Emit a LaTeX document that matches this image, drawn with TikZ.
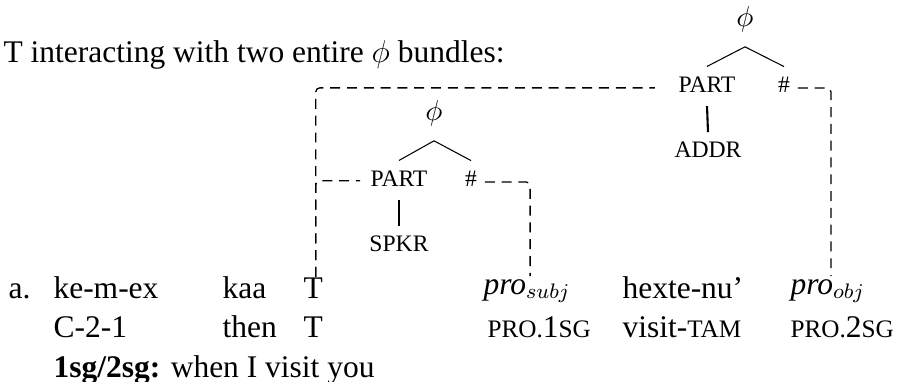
\documentclass[tikz,border=0pt,12pt]{standalone}
\usepackage{fontspec}
\setmainfont{Liberation Serif}
\newcommand{\glsc}[1]{{\fontsize{9.6pt}{11pt}\selectfont #1}}

\begin{document}
\begin{tikzpicture}[x=0.381pt,y=-0.381pt,font=\fontsize{12pt}{14.4pt}\selectfont,
        gl/.style={anchor=base west,inner sep=0pt},
        tr/.style={anchor=base,inner sep=0pt,font=\fontsize{9pt}{10.5pt}\selectfont},
        trphi/.style={tr,font=\fontsize{11pt}{12pt}\selectfont},
        br/.style={line width=0.4pt},
        bar/.style={line width=0.8pt},
        link/.style={line width=0.5pt,dash pattern=on 3.8pt off 2.6pt,rounded corners=1.5pt}]
        \useasboundingbox (0,0) rectangle (907,381);
        \node[gl] (title) at (3,62) {T interacting with two entire $\phi$ bundles:};

        %draw the upper phi bundle
        \node[trphi] (phiA) at (745,26) {$\phi$};
        \node[tr] (partA) at (707,92) {PART};
        \node[tr] (hashA) at (784,92) {\#};
        \node[tr] (addrA) at (708,157) {ADDR};
        \draw[br] ([yshift=-5.6pt]phiA.south) -- ([yshift=3.6pt]partA.north);
        \draw[br] ([yshift=-5.6pt]phiA.south) -- ([yshift=3.6pt]hashA.north);
        \draw[bar] ([yshift=-5.2pt]partA.south) -- ([yshift=3.3pt]addrA.north);

        %draw the lower phi bundle
        \node[trphi] (phiB) at (434,120) {$\phi$};
        \node[tr] (partB) at (399,186) {PART};
        \node[tr] (hashB) at (471,186) {\#};
        \node[tr] (spkrB) at (399,251) {SPKR};
        \draw[br] ([yshift=-5.6pt]phiB.south) -- ([yshift=3.6pt]partB.north);
        \draw[br] ([yshift=-5.6pt]phiB.south) -- ([yshift=3.6pt]hashB.north);
        \draw[bar] ([yshift=-5.2pt]partB.south) -- ([yshift=3.3pt]spkrB.north);

        %the example with its gloss
        \node[gl] (exLabel) at (8,298) {a.};
        \node[gl] (exA) at (53,298) {ke-m-ex};
        \node[gl] (kaaA) at (222,298) {kaa};
        \node[gl] (tA) at (303,298) {T};
        \node[gl] (proS) at (483,294) {\textit{pro}$_{subj}$};
        \node[gl] (hexA) at (622,298) {hexte-nu'};
        \node[gl] (proO) at (790,294) {\textit{pro}$_{obj}$};

        \node[gl] (glC) at (53,337) {C-2-1};
        \node[gl] (glThen) at (222,337) {then};
        \node[gl] (tB) at (303,337) {T};
        \node[gl] (glPro1) at (487,337) {\glsc{PRO.}1\glsc{SG}};
        \node[gl] (glVisit) at (622,337) {visit-\glsc{TAM}};
        \node[gl] (glPro2) at (790,337) {\glsc{PRO.}2\glsc{SG}};

        \node[gl] (trans) at (53,377) {\textbf{1sg/2sg:} when I visit you};

        %dashed links from T and the pros to the bundles
        \draw[link] ([xshift=1pt]tA.north) |- ([xshift=-8.8pt,yshift=-1.4pt]partA.west);
        \draw[link] ([xshift=1pt]tA.north) |- ([xshift=-3.8pt,yshift=-1pt]partB.west);
        \draw[link] ([xshift=2.8pt,yshift=-1.4pt]hashA.east) -| ([xshift=1.2pt,yshift=1pt]proO.north);
        \draw[link] ([xshift=2.8pt,yshift=-1.4pt]hashB.east) -| ([xshift=1.2pt,yshift=1pt]proS.north);
\end{tikzpicture}
\end{document}
